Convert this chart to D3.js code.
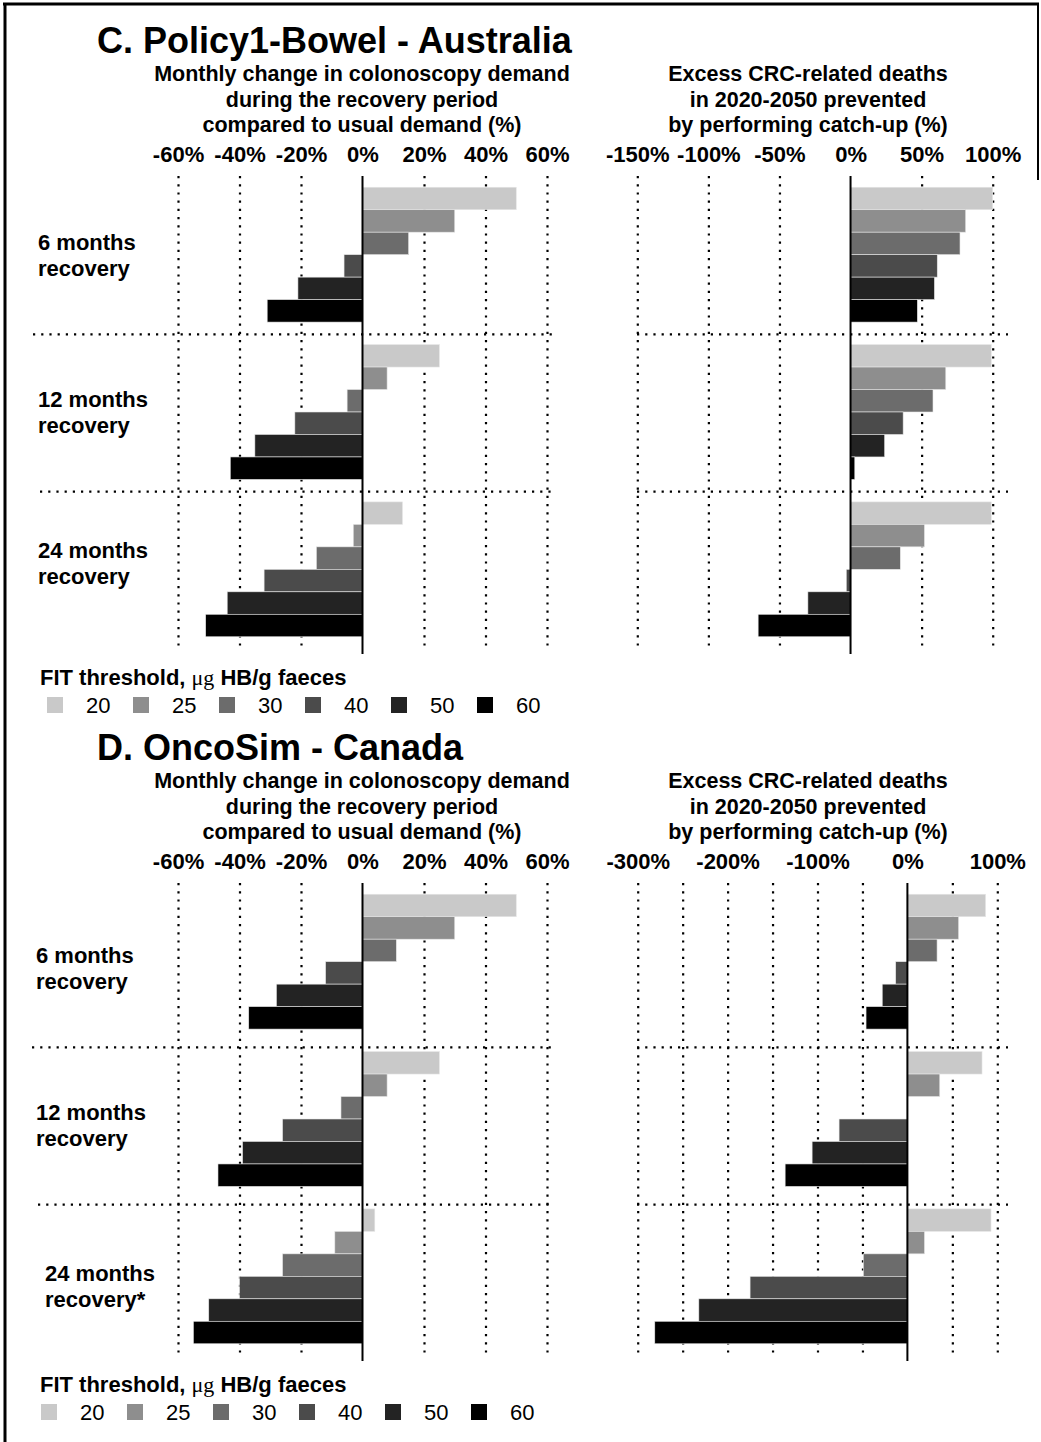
<!DOCTYPE html>
<html>
<head>
<meta charset="utf-8">
<script src="https://cdn.jsdelivr.net/npm/d3@7"></script>
<style>
  body { margin: 0; background: #fff; }
  svg { display: block; font-family: "Liberation Sans", Arial, sans-serif; }
</style>
</head>
<body>
<div id="chart"></div>
<script>
// categories
const periods = ["6 months", "12 months", "24 months"];
const thresholds = ["20", "25", "30", "40", "50", "60"];

// subtitles
const demandTitle = ["Monthly change in colonoscopy demand", "during the recovery period", "compared to usual demand (%)"];
const deathTitle = ["Excess CRC-related deaths", "in 2020-2050 prevented", "by performing catch-up (%)"];

// ticks
const demandTicks = [-60, -40, -20, 0, 20, 40, 60];
const ausDeathTicks = [-150, -100, -50, 0, 50, 100];
const canDeathTicks = [-300, -200, -100, 0, 100];
const canDeathGrid = [-300, -250, -200, -150, -100, -50, 0, 50, 100];

// values (%), one row per recovery period, one value per FIT threshold
const ausDemand = [
    [50, 30, 15, -6, -21, -31],
    [25, 8, -5, -22, -35, -43],
    [13, -3, -15, -32, -44, -51]
];
const ausDeaths = [
    [100, 81, 77, 61, 59, 47],
    [99, 67, 58, 37, 24, 3],
    [99, 52, 35, -3, -30, -65]
];
const canDemand = [
    [50, 30, 11, -12, -28, -37],
    [25, 8, -7, -26, -39, -47],
    [4, -9, -26, -40, -50, -55]
];
const canDeaths = [
    [87, 57, 33, -13, -28, -46],
    [83, 36, 0, -76, -106, -136],
    [93, 19, -49, -175, -232, -281]
];

const colors = ["#c9c9c9", "#8e8e8e", "#6c6c6c", "#4b4b4b", "#232323", "#000000"];

const width = 1041;
const height = 1442;

const svg = d3.select("#chart")
    .append("svg")
    .attr("width", width)
    .attr("height", height);

// frame (only top/left edges are visible in the crop)
svg.append("line").attr("x1", 5).attr("x2", 5).attr("y1", 3).attr("y2", height)
    .attr("stroke", "#000").attr("stroke-width", 3);
svg.append("line").attr("x1", 3).attr("x2", 1039).attr("y1", 4).attr("y2", 4)
    .attr("stroke", "#000").attr("stroke-width", 3);
svg.append("line").attr("x1", 1038).attr("x2", 1038).attr("y1", 3).attr("y2", 180)
    .attr("stroke", "#000").attr("stroke-width", 2);

const panels = [
    {
        title: "C. Policy1-Bowel - Australia",
        yOff: 0,
        labels: [["6 months", "recovery"], ["12 months", "recovery"], ["24 months", "recovery"]],
        labelDx: [0, 0, 0],
        labelDy: [-5, -5, -11],
        sepShift: 1,
        sepStart: [33, 40],
        legendSwatchX: 47,
        charts: [
            { data: ausDemand, ticks: demandTicks, grid: demandTicks, domain: [-60, 60], range: [178, 547], sub: demandTitle, subX: 362, sepEnd: 553 },
            { data: ausDeaths, ticks: ausDeathTicks, grid: ausDeathTicks, domain: [-150, 100], range: [637.3, 992.7], sub: deathTitle, subX: 808, sepStartX: 637, sepEnd: 1008 }
        ]
    },
    {
        title: "D. OncoSim - Canada",
        yOff: 707,
        labels: [["6 months", "recovery"], ["12 months", "recovery"], ["24 months", "recovery*"]],
        labelDx: [-2, -2, 7],
        labelDy: [1, 1, 5],
        sepShift: 7,
        sepStart: [32, 38],
        legendSwatchX: 41,
        charts: [
            { data: canDemand, ticks: demandTicks, grid: demandTicks, domain: [-60, 60], range: [178, 547], sub: demandTitle, subX: 362, sepEnd: 553 },
            { data: canDeaths, ticks: canDeathTicks, grid: canDeathGrid, domain: [-300, 100], range: [637.7, 997.3], sub: deathTitle, subX: 808, sepStartX: 637, sepEnd: 1008 }
        ]
    }
];

panels.forEach(p => {
    const g = svg.append("g").attr("transform", `translate(0,${p.yOff})`);
    const plotTop = 176;
    const plotBottom = 648;

    // title
    g.append("text")
        .attr("x", 97)
        .attr("y", 53)
        .style("font-size", "36px")
        .style("font-weight", "bold")
        .text(p.title);

    // group and bar scales
    const yGroup = d3.scaleBand()
        .domain(periods)
        .range([plotTop, plotBottom])
        .padding(0);

    const yBar = d3.scaleBand()
        .domain(thresholds)
        .range([0, yGroup.bandwidth()])
        .paddingInner(0)
        .paddingOuter(0.5);

    // period labels
    periods.forEach((per, i) => {
        const cy = yGroup(per) + yGroup.bandwidth() / 2 + p.labelDy[i];
        const t = g.append("text")
            .attr("x", 38 + p.labelDx[i])
            .attr("y", cy)
            .style("font-size", "22px")
            .style("font-weight", "bold");
        t.append("tspan").attr("x", 38 + p.labelDx[i]).attr("dy", 0).text(p.labels[i][0]);
        t.append("tspan").attr("x", 38 + p.labelDx[i]).attr("dy", 26).text(p.labels[i][1]);
    });

    p.charts.forEach((c, ci) => {
        const x = d3.scaleLinear().domain(c.domain).range(c.range);

        // subtitle
        c.sub.forEach((line, li) => {
            g.append("text")
                .attr("x", c.subX)
                .attr("y", 81 + li * 25.5)
                .attr("text-anchor", "middle")
                .style("font-size", "21.5px")
                .style("font-weight", "bold")
                .text(line);
        });

        // tick labels
        const tickAxis = g.append("g")
            .attr("transform", "translate(0,162)")
            .call(d3.axisTop(x).tickValues(c.ticks).tickSize(0).tickPadding(0).tickFormat(d => d + "%"));
        tickAxis.select(".domain").remove();
        tickAxis.selectAll("text")
            .attr("fill", "#000")
            .style("font-size", "22px")
            .style("font-weight", "bold")
            .style("font-family", "'Liberation Sans', Arial, sans-serif");

        // dotted vertical grid
        const grid = g.append("g")
            .attr("transform", `translate(0,${plotTop})`)
            .call(d3.axisBottom(x).tickValues(c.grid.filter(v => v !== 0)).tickSize(plotBottom - plotTop).tickFormat(""));
        grid.select(".domain").remove();
        grid.selectAll("line")
            .attr("stroke", "#000")
            .attr("stroke-width", 2.2)
            .attr("stroke-dasharray", "2.2 6");

        // dotted horizontal separators between periods
        periods.slice(1).forEach((per, si) => {
            const yy = yGroup(per) + p.sepShift;
            g.append("line")
                .attr("x1", ci === 0 ? p.sepStart[si] : c.sepStartX)
                .attr("x2", c.sepEnd)
                .attr("y1", yy)
                .attr("y2", yy)
                .attr("stroke", "#000")
                .attr("stroke-width", 2.2)
                .attr("stroke-dasharray", "2.2 6");
        });

        // bars
        periods.forEach((per, pi) => {
            g.append("g")
                .selectAll("rect")
                .data(c.data[pi])
                .join("rect")
                .attr("x", v => x(Math.min(0, v)))
                .attr("y", (v, i) => yGroup(per) + yBar(thresholds[i]))
                .attr("width", v => Math.abs(x(v) - x(0)))
                .attr("height", yBar.bandwidth())
                .attr("fill", (v, i) => colors[i])
                .attr("stroke", "#e6e6e6")
                .attr("stroke-width", 0.6);
        });

        // zero line
        g.append("line")
            .attr("x1", x(0))
            .attr("x2", x(0))
            .attr("y1", plotTop)
            .attr("y2", plotBottom + 6)
            .attr("stroke", "#000")
            .attr("stroke-width", 2);
    });

    // legend
    const lg = g.append("text")
        .attr("x", 40)
        .attr("y", 685)
        .style("font-size", "22px")
        .style("font-weight", "bold");
    lg.append("tspan").text("FIT threshold, ");
    lg.append("tspan").style("font-family", "'Liberation Serif', serif").style("font-weight", "normal").text("\u03bcg");
    lg.append("tspan").text(" HB/g faeces");

    const legendX = d3.scalePoint()
        .domain(thresholds)
        .range([p.legendSwatchX, p.legendSwatchX + 86 * 5]);

    const items = g.append("g")
        .selectAll("g")
        .data(thresholds)
        .join("g")
        .attr("transform", d => `translate(${legendX(d)},697)`);
    items.append("rect")
        .attr("width", 16)
        .attr("height", 16)
        .attr("fill", (d, i) => colors[i]);
    items.append("text")
        .attr("x", 39)
        .attr("y", 16)
        .style("font-size", "22px")
        .text(d => d);
});
</script>
</body>
</html>
